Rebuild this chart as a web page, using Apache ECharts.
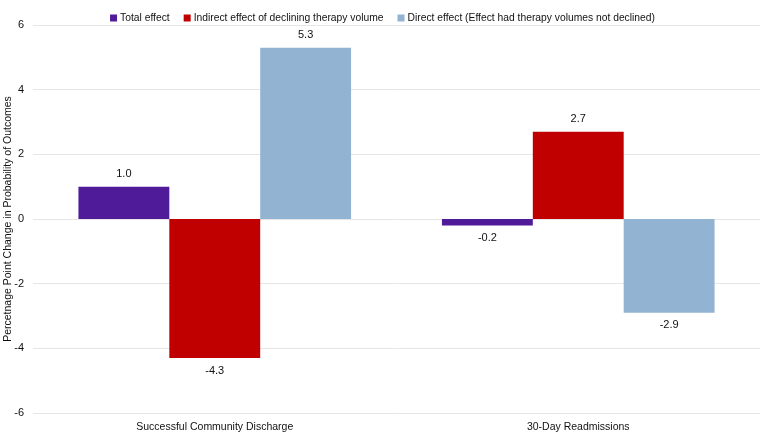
<!DOCTYPE html>
<html>
<head>
<meta charset="utf-8">
<script src="https://cdn.jsdelivr.net/npm/echarts@6/dist/echarts.min.js"></script>
<style>
  html, body { margin: 0; padding: 0; background: #fff; }
  #chart { width: 765px; height: 435px; }
</style>
</head>
<body>
<div id="chart"></div>
<script>
const categories = ['Successful Community Discharge', '30-Day Readmissions'];
const seriesNames = [
  'Total effect',
  'Indirect effect of declining therapy volume',
  'Direct effect (Effect had therapy volumes not declined)'
];
const totalEffect = [1.0, -0.2];
const indirectEffect = [-4.3, 2.7];
const directEffect = [5.3, -2.9];
const yTicks = [-6, 6, 2]; // min, max, interval

const colors = ['#4f1b99', '#c00000', '#93b3d3'];
const font = 'Liberation Sans, Arial, sans-serif';

const chart = echarts.init(document.getElementById('chart'));

function makeSeries(name, data, color) {
  return {
    name: name,
    type: 'bar',
    data: data,
    barGap: '0%',
    barCategoryGap: '25%',
    itemStyle: { color: color },
    label: {
      show: true,
      formatter: p => p.value.toFixed(1),
      position: 'outside',
      color: '#111',
      fontSize: 11,
      fontFamily: font,
      distance: 7
    }
  };
}

const option = {
  animation: false,
  color: colors,
  legend: {
    top: 8,
    left: 'center',
    itemWidth: 7,
    itemHeight: 7,
    itemGap: 14,
    icon: 'rect',
    textStyle: { fontSize: 10.3, fontFamily: font, color: '#111', padding: [0, 0, 0, -2] },
    data: seriesNames
  },
  grid: { left: 33, right: 5, top: 25, bottom: 22, containLabel: false, outerBoundsMode: 'none' },
  xAxis: {
    type: 'category',
    data: categories,
    position: 'bottom',
    axisLine: { show: false },
    axisTick: { show: false },
    axisLabel: { fontSize: 10.5, fontFamily: font, color: '#111', margin: 9 }
  },
  yAxis: {
    type: 'value',
    min: yTicks[0],
    max: yTicks[1],
    interval: yTicks[2],
    name: 'Percetnage Point Change in Probability of Outcomes',
    nameLocation: 'middle',
    nameGap: 19,
    nameMoveOverlap: false,
    nameTextStyle: { fontSize: 10.5, fontFamily: font, color: '#111' },
    axisLine: { show: false },
    axisTick: { show: false },
    axisLabel: { fontSize: 11, fontFamily: font, color: '#111', margin: 9 },
    splitLine: { lineStyle: { color: '#e6e6e6', width: 1 } }
  },
  series: [
    makeSeries(seriesNames[0], totalEffect, colors[0]),
    makeSeries(seriesNames[1], indirectEffect, colors[1]),
    makeSeries(seriesNames[2], directEffect, colors[2])
  ]
};

chart.setOption(option);
</script>
</body>
</html>
